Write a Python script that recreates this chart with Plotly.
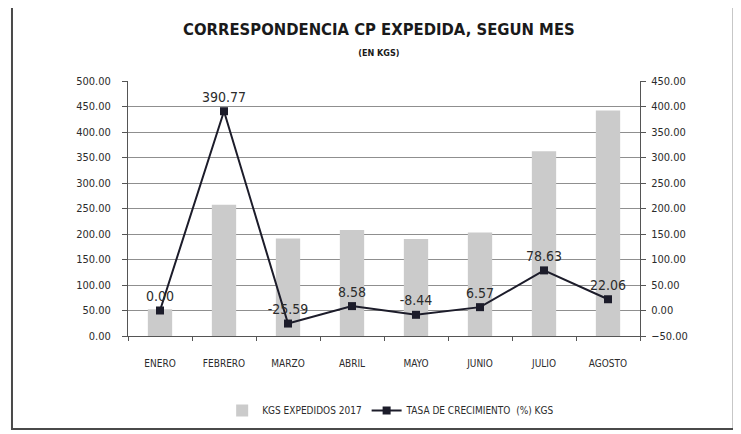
"""Correspondencia CP expedida, segun mes (en kgs)."""
import plotly.graph_objects as go

MESES = ["ENERO", "FEBRERO", "MARZO", "ABRIL", "MAYO", "JUNIO", "JULIO", "AGOSTO"]
KGS_2017 = [52.4, 257.2, 191.4, 207.8, 190.3, 202.8, 362.3, 442.2]
TASA_CRECIMIENTO = [0.00, 390.77, -25.59, 8.58, -8.44, 6.57, 78.63, 22.06]

FONT = "DejaVu Sans Condensed"
GRID = "#8f8f8f"
TEXT = "#2b2b2b"

fig = go.Figure()
fig.add_trace(
    go.Bar(
        x=MESES,
        y=KGS_2017,
        name="KGS EXPEDIDOS 2017",
        marker=dict(color="#cbcbcb", line=dict(width=0)),
        width=0.38,
    )
)
fig.add_trace(
    go.Scatter(
        x=MESES,
        y=TASA_CRECIMIENTO,
        name="TASA DE CRECIMIENTO  (%) KGS",
        yaxis="y2",
        mode="lines+markers+text",
        line=dict(color="#1c1c2a", width=2),
        marker=dict(symbol="square", size=8, color="#1c1c2a"),
        text=[f"{v:.2f}" for v in TASA_CRECIMIENTO],
        textposition="top center",
        textfont=dict(family=FONT, size=14, color=TEXT),
    )
)

# the page body adds an 8px offset, so the figure is sized 8px smaller
fig.update_layout(
    width=733,
    height=426,
    paper_bgcolor="white",
    plot_bgcolor="white",
    font=dict(family=FONT, color=TEXT, size=11),
    margin=dict(l=120, r=101, t=73, b=98, autoexpand=False),
    title=dict(
        text="<b>CORRESPONDENCIA CP EXPEDIDA, SEGUN MES</b>"
        "<br><span style='font-size:9px'><b>(EN KGS)</b></span>",
        font=dict(family=FONT, size=16.5, color="#1a1a1a"),
        x=0.506,
        xanchor="center",
        y=0.937,
        yanchor="top",
    ),
    xaxis=dict(
        showgrid=False,
        showline=True,
        linecolor="#555",
        ticks="outside",
        tickson="boundaries",
        ticklen=4,
        tickcolor="#555",
        tickfont=dict(size=10),
        ticklabelstandoff=18,
        automargin=False,
    ),
    yaxis=dict(
        range=[0, 500],
        dtick=50,
        tickformat=".2f",
        showgrid=True,
        gridcolor=GRID,
        showline=True,
        linecolor="#555",
        ticks="outside",
        ticklen=5,
        tickcolor="#555",
        zeroline=False,
        tickfont=dict(size=11),
        ticklabelstandoff=9,
        automargin=False,
    ),
    yaxis2=dict(
        range=[-50, 450],
        dtick=50,
        tickformat=".2f",
        overlaying="y",
        side="right",
        showgrid=False,
        showline=True,
        linecolor="#555",
        ticks="outside",
        ticklen=5,
        tickcolor="#555",
        zeroline=False,
        tickfont=dict(size=11),
        ticklabelstandoff=3,
        automargin=False,
    ),
    legend=dict(
        orientation="h",
        x=0.514,
        xanchor="center",
        yref="container",
        y=0.055,
        yanchor="middle",
        font=dict(size=10),
    ),
    bargap=0.6,
)

# outer chart border
fig.add_shape(
    type="rect",
    xref="paper",
    yref="paper",
    x0=-0.2266,
    x1=1.183,
    y0=-0.3647,
    y1=1.294,
    line=dict(color="#4a4a4a", width=2),
    layer="below",
)

fig.write_html("out.html")
